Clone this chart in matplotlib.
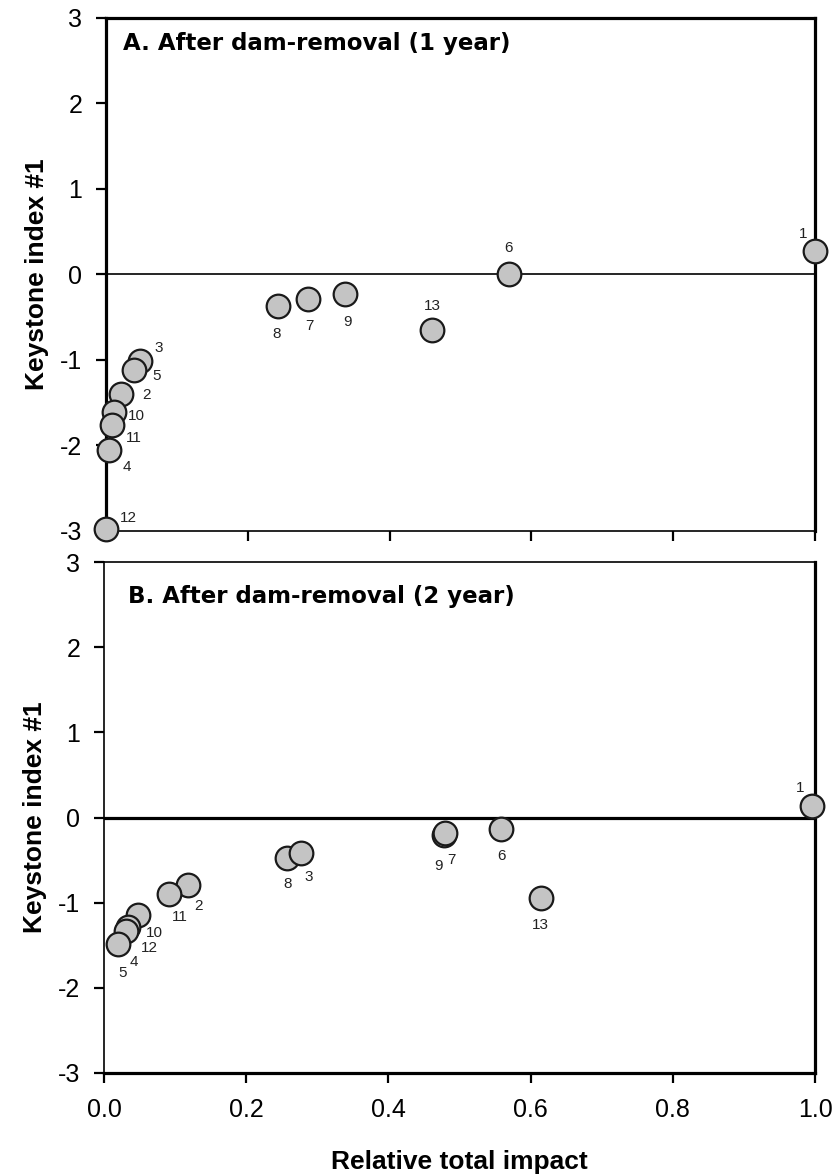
import matplotlib
matplotlib.use("Agg")
import matplotlib.pyplot as plt

plt.rcParams["font.family"] = ["Liberation Sans", "DejaVu Sans"]

# Panel A: one year after dam removal
labels_a = ["1", "6", "13", "9", "7", "8", "3", "5", "2", "10", "11", "4", "12"]
impact_a = [1.0, 0.568, 0.460, 0.337, 0.285, 0.242, 0.048, 0.039, 0.021, 0.011, 0.008, 0.004, 0.0]
keystone_a = [0.28, 0.0, -0.645, -0.223, -0.281, -0.363, -1.008, -1.113, -1.395, -1.605, -1.758, -2.05, -2.98]
# label offsets in pixels (dx, dy; dy positive = down)
offsets_a = [(-12, -17), (0, -26), (0, -24), (3, 28), (1, 27), (-1, 28), (19, -13),
             (23, 6), (26, 1), (23, 4), (22, 13), (18, 17), (22, -11)]

# Panel B: two years after dam removal
labels_b = ["1", "9", "7", "6", "13", "8", "3", "2", "11", "10", "12", "4", "5"]
impact_b = [0.996, 0.478, 0.480, 0.559, 0.614, 0.258, 0.277, 0.118, 0.092, 0.048, 0.034, 0.031, 0.020]
keystone_b = [0.13, -0.20, -0.18, -0.13, -0.94, -0.47, -0.42, -0.79, -0.90, -1.14, -1.29, -1.33, -1.49]
offsets_b = [(-12, -18), (-5, 31), (6, 27), (0, 27), (0, 27), (0, 26), (8, 24),
             (11, 21), (10, 23), (16, 18), (21, 21), (8, 31), (4, 29)]

y_ticks = [-3, -2, -1, 0, 1, 2, 3]
x_ticks = [0.0, 0.2, 0.4, 0.6, 0.8, 1.0]
x_ticklabels = ["0.0", "0.2", "0.4", "0.6", "0.8", "1.0"]

W, H = 834, 1176
fig = plt.figure(figsize=(W / 100, H / 100), dpi=100)

def rect(l, r, t, b):
    return [l / W, 1 - b / H, (r - l) / W, (b - t) / H]

ax_a = fig.add_axes(rect(106, 815, 18, 531))
ax_b = fig.add_axes(rect(104, 815, 562, 1073))

THICK = 2.3
THIN = 1.2

def setup(ax, title, title_xy, spine_w, zero_w, show_xlabels):
    ax.set_xlim(0, 1)
    ax.set_ylim(-3, 3)
    for side, w in spine_w.items():
        ax.spines[side].set_linewidth(w)
        ax.spines[side].set_color("black")
    ax.axhline(0, color="black", lw=zero_w, zorder=2)
    ax.set_yticks(y_ticks)
    ax.set_yticklabels([str(v) for v in y_ticks])
    ax.set_xticks(x_ticks)
    if show_xlabels:
        ax.set_xticklabels(x_ticklabels)
    else:
        ax.set_xticklabels([])
    ax.tick_params(axis="both", direction="out", length=7, width=1.6,
                   labelsize=18, colors="black")
    ax.tick_params(axis="y", pad=10)
    ax.tick_params(axis="x", pad=11)
    ax.set_ylabel("Keystone index #1", fontsize=19, fontweight="bold", labelpad=8)
    ax.text(title_xy[0], title_xy[1], title, fontsize=16.5, fontweight="bold",
            family="DejaVu Sans", ha="left", va="baseline")

def draw_points(ax, xs, ys, labels, offsets):
    ax.scatter(xs, ys, s=290, c="#c4c4c4", edgecolors="#1a1a1a", linewidths=1.6,
               zorder=5, clip_on=False)
    for x, y, lab, (dx, dy) in zip(xs, ys, labels, offsets):
        ax.annotate(lab, (x, y), xytext=(dx * 0.72, -dy * 0.72), textcoords="offset points",
                    ha="center", va="center", fontsize=11, color="#222222",
                    zorder=6, annotation_clip=False)

setup(ax_a, "A. After dam-removal (1 year)", (0.024, 2.63),
      {"top": THICK, "left": THICK, "right": THICK, "bottom": THIN}, THIN, False)
setup(ax_b, "B. After dam-removal (2 year)", (0.034, 2.52),
      {"top": THIN, "left": THIN, "right": THICK, "bottom": THICK}, THICK, True)

draw_points(ax_a, impact_a, keystone_a, labels_a, offsets_a)
draw_points(ax_b, impact_b, keystone_b, labels_b, offsets_b)

ax_b.set_xlabel("Relative total impact", fontsize=19, fontweight="bold", labelpad=20)

fig.savefig("out.png", dpi=100)
